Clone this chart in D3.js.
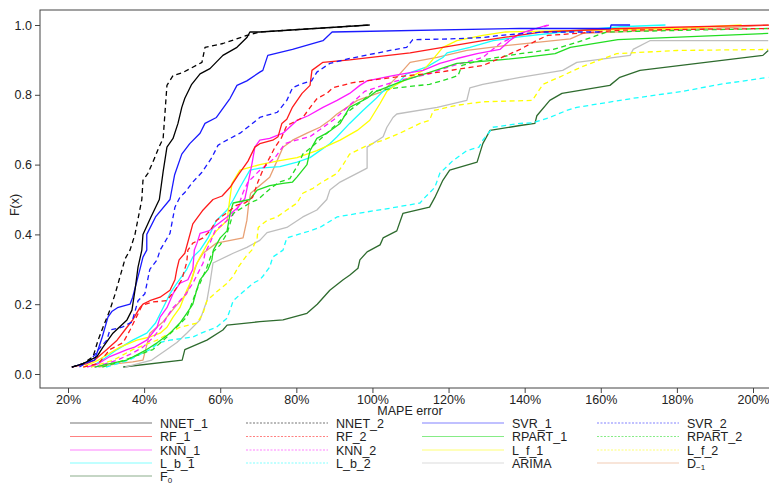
<!DOCTYPE html>
<html>
<head>
<meta charset="utf-8">
<script src="https://cdn.jsdelivr.net/npm/d3@7"></script>
<style>
  body { margin: 0; background: #fff; }
  svg { font-family: "Liberation Sans", Arial, sans-serif; }
</style>
</head>
<body>
<svg id="chart" width="769" height="483"></svg>
<script>
const nnet1 = [[21,0.02],[24,0.03],[27.6,0.05],[29.2,0.077],[31.8,0.117],[35.5,0.155],[36.8,0.183],[37.6,0.24],[38.4,0.306],[39.4,0.355],[39.7,0.4],[41.8,0.45],[44,0.5],[45,0.58],[46,0.65],[47.6,0.675],[48.9,0.718],[49.9,0.764],[50.7,0.79],[52.5,0.83],[54.7,0.86],[57.3,0.875],[60.7,0.913],[64.4,0.936],[67,0.964],[67.8,0.98],[70.4,0.98],[99.3,1.0]];
const nnet2 = [[21,0.02],[24,0.03],[26.6,0.05],[27.9,0.097],[29.2,0.134],[31,0.183],[32.4,0.23],[33.7,0.28],[35,0.33],[36.3,0.355],[37.6,0.4],[39.4,0.5],[39.7,0.555],[41,0.575],[42.8,0.62],[43.9,0.65],[45,0.675],[46,0.827],[47.6,0.855],[50.2,0.864],[55.2,0.893],[56,0.936],[60.7,0.947],[67,0.97],[70.4,0.98],[99.3,1.0]];
const svr1 = [[21,0.02],[24,0.03],[27,0.04],[29,0.106],[30.5,0.163],[31.6,0.18],[33,0.19],[36.3,0.2],[37,0.22],[38.9,0.3],[39.7,0.335],[40.7,0.355],[40.7,0.4],[43,0.45],[46.8,0.5],[48,0.57],[49.9,0.63],[52,0.66],[54.7,0.69],[56,0.718],[59,0.735],[62.6,0.79],[64.4,0.827],[67,0.84],[70.4,0.865],[71.2,0.87],[72.5,0.913],[79,0.93],[87,0.955],[89.4,0.98],[138.8,0.99],[162.5,0.99],[162.7,1.0],[167.7,1.0]];
const svr2 = [[23,0.02],[26,0.04],[28,0.07],[30.2,0.097],[31,0.126],[34.2,0.134],[36.8,0.149],[38.4,0.21],[40.2,0.23],[41.5,0.3],[43.4,0.327],[44.2,0.355],[46.8,0.403],[48.1,0.478],[49.4,0.506],[50.7,0.52],[52.8,0.55],[55.2,0.578],[57.8,0.62],[59.4,0.655],[60.7,0.664],[65.2,0.69],[67.8,0.712],[70.4,0.735],[75,0.75],[77.5,0.784],[79,0.82],[81,0.83],[84,0.84],[85.4,0.865],[88.8,0.89],[94,0.904],[104.6,0.927],[109,0.936],[110.6,0.958],[120,0.96],[129,0.964],[133.5,0.97],[144.8,0.98],[160,0.98]];
const rf1 = [[21,0.02],[25,0.03],[27,0.04],[30.2,0.07],[32.9,0.097],[35.5,0.134],[37,0.155],[38.9,0.19],[39.7,0.2],[41.5,0.21],[44.2,0.22],[46.8,0.24],[48.1,0.27],[48.6,0.3],[49.2,0.327],[50.7,0.346],[52.8,0.43],[55.5,0.47],[58.1,0.5],[60.5,0.51],[62.6,0.535],[64.7,0.57],[67.3,0.61],[69.1,0.65],[70.4,0.66],[73.8,0.67],[75.2,0.68],[76.2,0.718],[77.5,0.73],[79,0.765],[81.5,0.804],[83.6,0.827],[84.1,0.87],[87,0.893],[94,0.9],[109.9,0.92],[129,0.955],[135,0.965],[144.8,0.98],[165,0.99],[205,1.0]];
const rf2 = [[24,0.02],[28,0.03],[31,0.07],[34.5,0.09],[36.3,0.126],[37.6,0.155],[39.5,0.197],[42,0.206],[45.9,0.21],[48.1,0.24],[49.9,0.27],[51.2,0.32],[51.5,0.355],[52.8,0.375],[55.5,0.39],[57.3,0.41],[59,0.44],[61.5,0.46],[64.4,0.484],[66.5,0.49],[68.5,0.506],[69.9,0.55],[71.2,0.584],[73,0.62],[74.4,0.65],[76,0.675],[77.5,0.712],[79,0.72],[81.7,0.735],[84.4,0.775],[85.5,0.79],[88,0.804],[89.6,0.82],[94.9,0.835],[105.4,0.85],[117,0.864],[129,0.884],[134,0.907],[138.8,0.93],[143,0.955],[146,0.97],[165,0.985],[205,0.99]];
const knn1 = [[25,0.02],[28,0.03],[31,0.05],[35.5,0.07],[37.5,0.077],[40.7,0.097],[43.4,0.134],[44.2,0.163],[46,0.19],[47.6,0.23],[49.4,0.26],[51.5,0.27],[52.8,0.3],[53.2,0.355],[53.9,0.375],[54.7,0.403],[57,0.41],[59.4,0.43],[61.8,0.45],[64.7,0.478],[66.5,0.503],[67.3,0.546],[68.3,0.6],[69.1,0.65],[70.4,0.67],[73,0.675],[76.5,0.69],[80.2,0.727],[83.1,0.74],[87,0.764],[90.7,0.784],[94,0.804],[96.7,0.827],[98.6,0.84],[105.4,0.855],[113.3,0.87],[117.7,0.89],[122.2,0.904],[127.5,0.918],[133.5,0.93],[136,0.955],[138.8,0.976],[146,1.0]];
const knn2 = [[27,0.02],[33,0.04],[37,0.06],[39.7,0.077],[42.5,0.106],[44.5,0.134],[46,0.163],[47.6,0.19],[49.4,0.21],[51,0.23],[52.8,0.26],[54.2,0.29],[55.5,0.318],[56,0.346],[57.5,0.38],[58.6,0.41],[61.8,0.44],[64.4,0.47],[66,0.52],[67.3,0.55],[68.6,0.564],[70.4,0.584],[72.3,0.6],[74.4,0.62],[75.7,0.64],[77,0.66],[80,0.67],[83.6,0.68],[90,0.73],[96,0.79],[98,0.81],[106.4,0.84],[115,0.86],[120,0.88],[129,0.907],[133.5,0.947],[136,0.96],[140,0.98],[146.6,1.0]];
const rpart1 = [[27,0.02],[31,0.03],[35.5,0.04],[40.7,0.07],[43.5,0.09],[46.8,0.117],[49.4,0.146],[51.2,0.174],[52.8,0.2],[53.8,0.24],[54.7,0.27],[56.8,0.3],[57.8,0.327],[58.2,0.355],[60,0.39],[61.8,0.41],[62.6,0.46],[63.4,0.49],[67.8,0.5],[69.7,0.527],[73,0.54],[76.5,0.546],[79,0.55],[80.2,0.565],[82.8,0.6],[83.6,0.64],[85.4,0.675],[88,0.69],[91.5,0.718],[94,0.764],[98.6,0.79],[101,0.81],[108,0.84],[115,0.864],[122.2,0.89],[133.5,0.9],[140,0.907],[148,0.918],[152,0.936],[164.5,0.958],[204,0.976]];
const rpart2 = [[29,0.02],[35,0.04],[42.3,0.07],[46,0.106],[48.5,0.134],[51.2,0.163],[52.8,0.21],[53.8,0.24],[54.7,0.26],[56.5,0.306],[57.8,0.346],[60,0.37],[61.8,0.403],[63.4,0.46],[66,0.478],[67.8,0.49],[69.9,0.5],[72,0.52],[73.6,0.535],[75.5,0.55],[78.3,0.56],[79.6,0.584],[80.5,0.6],[81.7,0.63],[84,0.65],[88,0.69],[91,0.72],[94,0.755],[97.5,0.784],[100,0.81],[106.4,0.82],[115,0.83],[120.3,0.847],[122.5,0.855],[123.5,0.884],[129,0.9],[138.8,0.918],[147.5,0.93],[153.7,0.95],[161.6,0.98],[204,0.99]];
const lf1 = [[24,0.02],[28,0.04],[31,0.06],[33.7,0.077],[38.1,0.097],[41.5,0.106],[44.2,0.117],[46,0.134],[47.6,0.163],[49.4,0.19],[51.2,0.24],[52.5,0.27],[53.4,0.306],[54.7,0.335],[57,0.38],[59,0.41],[61.8,0.44],[62.5,0.5],[63.1,0.546],[65.2,0.584],[70.4,0.6],[74.9,0.61],[80.2,0.62],[85.4,0.64],[91.5,0.67],[96,0.698],[99.3,0.727],[102,0.775],[103.8,0.81],[106.4,0.83],[113.3,0.87],[115,0.89],[118.5,0.936],[122.2,0.955],[129,0.97],[135,0.98],[180,0.99],[197,1.0]];
const lf2 = [[26,0.02],[32,0.04],[37,0.07],[43.4,0.097],[49.4,0.134],[53.9,0.146],[55.5,0.174],[56.5,0.21],[59,0.235],[61.8,0.26],[63.4,0.28],[64.7,0.306],[67,0.34],[68.3,0.355],[69.7,0.39],[70,0.42],[72.3,0.44],[74.9,0.45],[77.5,0.47],[80.2,0.49],[81.7,0.518],[84.4,0.532],[86.2,0.546],[90.7,0.575],[92.3,0.6],[94,0.63],[98.6,0.655],[102.8,0.67],[107.2,0.69],[112.5,0.718],[115,0.727],[116,0.755],[122.2,0.77],[129,0.78],[142,0.784],[144.8,0.83],[149,0.85],[155,0.88],[159.8,0.9],[164.2,0.918],[180,0.927],[204,0.93]];
const lb1 = [[26,0.02],[29,0.04],[32.9,0.07],[37,0.097],[40.7,0.117],[43,0.146],[45,0.19],[46.8,0.23],[48.6,0.26],[51.2,0.3],[52.8,0.335],[54.7,0.355],[56.8,0.39],[59,0.44],[61.8,0.47],[63.5,0.5],[65.2,0.535],[67.8,0.584],[70.4,0.59],[75.7,0.594],[80.2,0.607],[83.6,0.62],[86.2,0.64],[88.8,0.66],[90.7,0.68],[94,0.718],[97.5,0.755],[101,0.79],[102.8,0.81],[106.4,0.83],[109,0.86],[114.3,0.88],[118.5,0.907],[119.6,0.92],[125.6,0.936],[131.7,0.955],[138,0.965],[150,0.98],[165,0.995],[177,1.0]];
const lb2 = [[30,0.02],[36,0.04],[41.5,0.07],[44,0.09],[46.8,0.097],[52.8,0.106],[55,0.117],[59,0.134],[61.8,0.16],[62.8,0.19],[63.4,0.21],[66.5,0.24],[68.6,0.26],[70.4,0.27],[71.2,0.28],[73,0.306],[73.8,0.335],[76.5,0.355],[77.5,0.39],[83.6,0.41],[86.2,0.42],[90.7,0.45],[96,0.46],[104.6,0.475],[112.5,0.49],[113.8,0.506],[116.4,0.535],[117.7,0.575],[121,0.61],[124.8,0.64],[128,0.65],[129,0.67],[131.7,0.707],[138.8,0.718],[142.2,0.72],[146.6,0.735],[151,0.755],[153.7,0.764],[168.5,0.79],[181.6,0.81],[191.3,0.83],[204,0.85]];
const arima = [[35,0.02],[42,0.04],[46,0.07],[48.6,0.09],[51.2,0.117],[54.7,0.155],[56.5,0.21],[57.3,0.26],[58.1,0.318],[63.4,0.346],[67,0.363],[70.4,0.383],[72.3,0.405],[77.5,0.42],[81.7,0.45],[85.4,0.47],[88,0.5],[88.8,0.527],[91.5,0.55],[98.6,0.59],[98.6,0.65],[102.8,0.68],[103.8,0.707],[105.4,0.735],[106.4,0.745],[117,0.764],[124.8,0.784],[125.6,0.82],[129,0.83],[138.8,0.85],[150,0.87],[153.7,0.893],[167.7,0.913],[168.5,0.93],[172.9,0.955],[204,0.955]];
const dm1 = [[28,0.02],[33,0.03],[37,0.035],[39.7,0.04],[41.5,0.117],[45,0.15],[48,0.19],[51.2,0.23],[53.9,0.318],[55.5,0.346],[59,0.375],[66,0.39],[67,0.44],[67.5,0.49],[68,0.518],[73,0.564],[74.9,0.61],[76.5,0.65],[79,0.67],[82.8,0.69],[86.2,0.707],[88.8,0.727],[90.7,0.745],[96,0.784],[102.8,0.81],[107.2,0.86],[109.9,0.893],[117,0.907],[124.8,0.927],[134.3,0.94],[152,0.96],[155.3,0.976],[194.7,0.993],[204,1.0]];
const f0 = [[34.5,0.02],[50,0.04],[50.7,0.07],[56.5,0.097],[60.7,0.126],[61.8,0.14],[70.4,0.15],[76.5,0.155],[82.8,0.174],[85.5,0.2],[88.8,0.24],[92.3,0.27],[94,0.283],[96.2,0.303],[96.7,0.327],[98.6,0.35],[102,0.37],[102.8,0.39],[106.4,0.41],[108,0.46],[115,0.478],[116.4,0.506],[118.5,0.555],[120.3,0.584],[127.5,0.607],[129,0.66],[130.9,0.698],[138.8,0.712],[142.7,0.718],[143.2,0.74],[146.6,0.784],[149.8,0.804],[162.4,0.827],[165,0.85],[170.3,0.87],[202.6,0.913],[204,0.927]];

// legend order (row by row, 4 columns)
const seriesNames = ["NNET_1","NNET_2","SVR_1","SVR_2","RF_1","RF_2","RPART_1","RPART_2",
  "KNN_1","KNN_2","L_f_1","L_f_2","L_b_1","L_b_2","ARIMA","D_-1","F_0"];
const seriesData = [nnet1,nnet2,svr1,svr2,rf1,rf2,rpart1,rpart2,knn1,knn2,lf1,lf2,lb1,lb2,arima,dm1,f0];
const xTicks = [20,40,60,80,100,120,140,160,180,200];
const yTicks = [0,0.2,0.4,0.6,0.8,1.0];

// styles
const colors = ["#000000","#000000","#1a1aff","#1a1aff","#ff1a1a","#ff1a1a","#22dd22","#22dd22",
  "#ff1aff","#ff1aff","#ffff00","#ffff00","#1affff","#1affff","#bebebe","#e8a074","#2e6b2e"];
const dashed = [false,true,false,true,false,true,false,true,false,true,false,true,false,true,false,false,false];

const svg = d3.select("#chart");
const padL = 40, padT = 10, padB = 388, padR = 790;

const x = d3.scaleLinear().domain([20, 200]).range([68, 753]);
const y = d3.scaleLinear().domain([0, 1]).range([374, 25]);

svg.append("defs").append("clipPath").attr("id", "clip")
  .append("rect").attr("x", padL).attr("y", padT).attr("width", padR - padL).attr("height", padB - padT);

const line = d3.line().x(d => x(d[0])).y(d => y(d[1]));

const plot = svg.append("g").attr("clip-path", "url(#clip)");
// draw back to front so the black curves end up on top
const order = d3.range(seriesData.length).reverse();
plot.selectAll("path")
  .data(order)
  .join("path")
  .attr("d", i => line(seriesData[i]))
  .attr("fill", "none")
  .attr("stroke", i => colors[i])
  .attr("stroke-width", 1.3)
  .attr("stroke-dasharray", i => dashed[i] ? "5,3.5" : null)
  .attr("stroke-linejoin", "round");

// frame
svg.append("rect")
  .attr("x", padL).attr("y", padT)
  .attr("width", padR - padL).attr("height", padB - padT)
  .attr("fill", "none").attr("stroke", "#444").attr("stroke-width", 1);

const xAxis = svg.append("g")
  .attr("transform", `translate(0,${padB})`)
  .call(d3.axisBottom(x).tickValues(xTicks).tickSize(5).tickPadding(2).tickFormat(d => d + "%"));
xAxis.select(".domain").remove();

const yAxis = svg.append("g")
  .attr("transform", `translate(${padL},0)`)
  .call(d3.axisLeft(y).tickValues(yTicks).tickSize(5).tickPadding(3).tickFormat(d3.format(".1f")));
yAxis.select(".domain").remove();

svg.selectAll(".tick line").attr("stroke", "#444");
svg.selectAll(".tick text").attr("font-size", 12.5).attr("fill", "#222")
  .attr("font-family", "Liberation Sans, Arial, sans-serif");

svg.append("text")
  .attr("x", 410).attr("y", 415)
  .attr("text-anchor", "middle")
  .attr("font-size", 12.5).attr("fill", "#222")
  .text("MAPE error");

svg.append("text")
  .attr("transform", "translate(19,205) rotate(-90)")
  .attr("text-anchor", "middle")
  .attr("font-size", 12.5).attr("fill", "#222")
  .text("F(x)");

// legend
const colLine = [70, 246, 422, 597];
const rowY = [423, 436.5, 450, 463, 476];
const legend = svg.append("g");
seriesNames.forEach((name, i) => {
  const c = i % 4, r = Math.floor(i / 4);
  const g = legend.append("g");
  g.append("line")
    .attr("x1", colLine[c]).attr("x2", colLine[c] + 82)
    .attr("y1", rowY[r]).attr("y2", rowY[r])
    .attr("stroke", colors[i]).attr("stroke-width", 1)
    .attr("stroke-opacity", 0.55)
    .attr("stroke-dasharray", dashed[i] ? "2,1.5" : null);
  const t = g.append("text")
    .attr("x", colLine[c] + 90).attr("y", rowY[r] + 4.5)
    .attr("font-size", 12.5).attr("fill", "#222");
  const parts = name.match(/^([DF])_(.+)$/);
  if (parts) {
    t.text(parts[1]);
    t.append("tspan").attr("font-size", 8).attr("dy", 2).text(parts[2].replace("-", "\u2212"));
  } else {
    t.text(name);
  }
});
</script>
</body>
</html>
